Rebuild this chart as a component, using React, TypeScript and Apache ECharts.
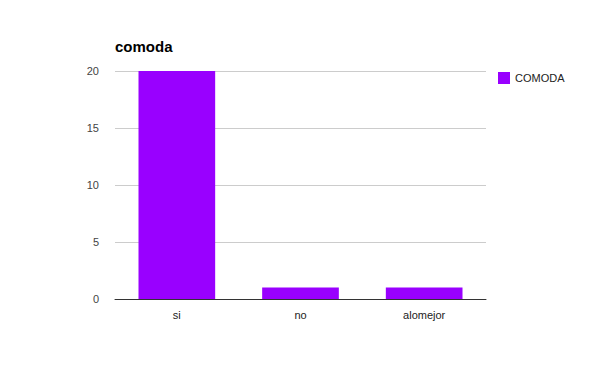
import React, { useEffect, useRef } from "react";
import * as echarts from "echarts";

const categories = ["si", "no", "alomejor"];
const values = [20, 1, 1];
const seriesName = "COMODA";
const yTicks = { min: 0, max: 20, interval: 5 };

export default function App() {
  const ref = useRef<HTMLDivElement>(null);
  useEffect(() => {
    const chart = echarts.init(ref.current!, null, { renderer: "svg" });
    chart.setOption({
      animation: false,
      title: {
        text: "comoda",
        left: 102,
        top: 26,
        textStyle: { fontFamily: "Arial, Liberation Sans", fontSize: 15, fontWeight: "bold", color: "#000" },
      },
      legend: {
        data: [seriesName],
        orient: "vertical",
        left: 485,
        top: 59,
        icon: "rect",
        itemWidth: 12,
        itemHeight: 12,
        itemGap: 6,
        textStyle: { fontFamily: "Arial, Liberation Sans", fontSize: 11, color: "#222" },
      },
      grid: { left: 107, right: 122, top: 63, bottom: 80 },
      xAxis: {
        type: "category",
        data: categories,
        axisLine: { lineStyle: { color: "#333", width: 1 } },
        axisTick: { show: false },
        axisLabel: { fontFamily: "Arial, Liberation Sans", fontSize: 11, color: "#222", margin: 10 },
      },
      yAxis: {
        type: "value",
        min: yTicks.min,
        max: yTicks.max,
        interval: yTicks.interval,
        axisLine: { show: false },
        axisTick: { show: false },
        splitLine: { lineStyle: { color: "#ccc" } },
        axisLabel: { fontFamily: "Arial, Liberation Sans", fontSize: 11, color: "#444", margin: 16 },
      },
      series: [
        {
          name: seriesName,
          type: "bar",
          data: values,
          barCategoryGap: "38%",
          itemStyle: { color: "#9900ff" },
        },
      ],
    });
    return () => chart.dispose();
  }, []);
  return <div ref={ref} style={{ width: 600, height: 371 }} />;
}
